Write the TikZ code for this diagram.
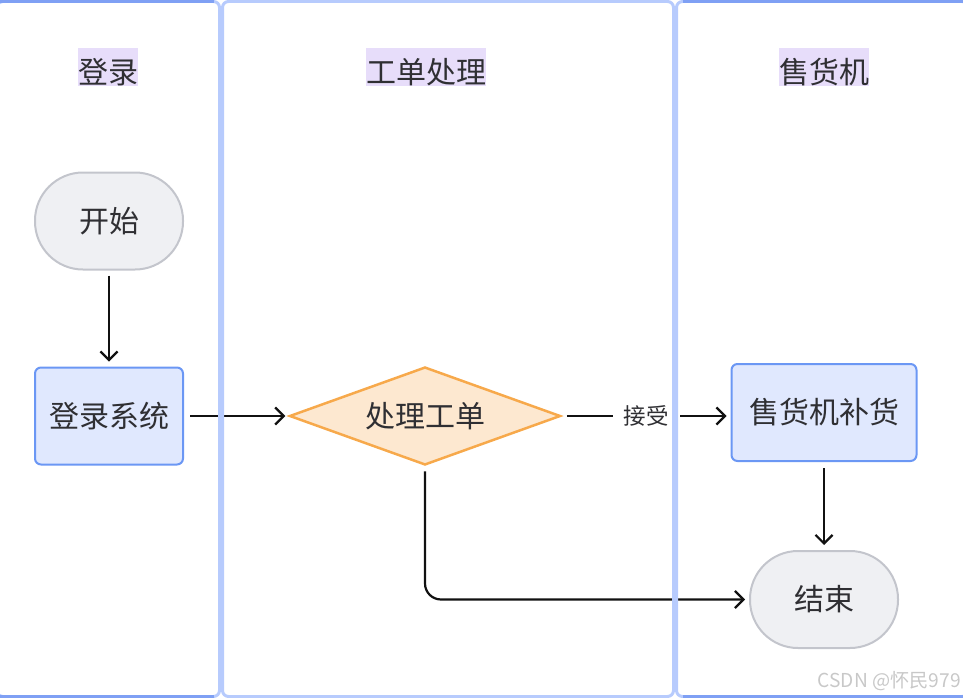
\documentclass[tikz,border=0pt]{standalone}
\usepackage{fontspec}
\setmainfont{Noto Sans CJK SC}
\usetikzlibrary{arrows.meta,shapes.geometric}
\definecolor{lanelight}{HTML}{B7CBFD}
\definecolor{lanedark}{HTML}{7FA0F4}
\definecolor{hdrbg}{HTML}{E7DDFA}
\definecolor{termfill}{HTML}{EFF0F3}
\definecolor{termline}{HTML}{C3C5CC}
\definecolor{procfill}{HTML}{E0E8FE}
\definecolor{procline}{HTML}{6B97F4}
\definecolor{decfill}{HTML}{FDE8D0}
\definecolor{decline}{HTML}{F7A94B}
\definecolor{txt}{HTML}{2F2F33}
\definecolor{wmgray}{HTML}{C8C8C8}
\definecolor{arrowcol}{HTML}{111111}
\begin{document}
\begin{tikzpicture}[x=1pt,y=-1pt,
  header/.style={fill=hdrbg, inner xsep=0pt, inner ysep=0pt, text height=35pt, text depth=3pt,
    text=txt, font=\fontsize{30pt}{36pt}\selectfont, anchor=north},
  terminal/.style={rectangle, rounded corners=48pt, fill=termfill, draw=termline, line width=2pt,
    minimum width=148pt, minimum height=97pt, text=txt, font=\fontsize{30pt}{36pt}\selectfont},
  process/.style={rectangle, rounded corners=6pt, fill=procfill, draw=procline, line width=2pt,
    minimum height=97pt, text=txt, font=\fontsize{30pt}{36pt}\selectfont},
  decision/.style={diamond, shape aspect=2.76, fill=decfill, draw=decline, line width=2.5pt,
    minimum width=271pt, minimum height=98pt, inner sep=0pt, text=txt, font=\fontsize{30pt}{36pt}\selectfont},
  conn/.style={draw=arrowcol, line width=2.2pt, -{Straight Barb[length=8.5pt,width=17pt]}},
  edgelabel/.style={fill=white, inner xsep=11pt, inner ysep=4pt, text=txt, font=\fontsize{22.5pt}{27pt}\selectfont},
  lane/.style={draw=lanelight, line width=3pt, rounded corners=6pt},
  lanetop/.style={draw=lanedark, line width=3pt}
]
\useasboundingbox (0,0) rectangle (963,698);

% headers
\node[header] (h1) at (108,48) {登录};
\node[header] (h2) at (426,48) {工单处理};
\node[header] (h3) at (824,48) {售货机};

% nodes
\node[terminal] (start) at (109,221) {开始};
\node[process, minimum width=148pt] (login) at (109,416) {登录系统};
\node[decision] (d) at (425,416) {处理工单};
\node[process, minimum width=185pt] (refill) at (824,412.5) {售货机补货};
\node[terminal] (end) at (824,599.5) {结束};

% connectors
\draw[conn, shorten <=5pt, shorten >=5pt] (start) -- (login);
\draw[conn, shorten <=6pt, shorten >=3pt] (login.east) -- (d.west);
\draw[conn, shorten <=5pt, shorten >=4pt] (d.east) -- node[edgelabel] (lbl) {接受} (refill.west |- d.east);
\draw[conn, shorten <=6pt, shorten >=5pt] (refill) -- (end);
\draw[conn, rounded corners=16pt, shorten <=5pt, shorten >=4pt] (d.south) |- (end.west);

% lanes
\draw[lane] (-3,1.5) rectangle (219.5,696.5);
\draw[lane] (222.5,1.5) rectangle (673.5,696.5);
\draw[lane] (676.5,1.5) rectangle (968,696.5);
\draw[lanetop] (-3,1.5) -- (213.5,1.5);
\draw[lanetop] (-3,696.5) -- (213.5,696.5);
\draw[lanetop] (682.5,1.5) -- (968,1.5);
\draw[lanetop] (682.5,696.5) -- (968,696.5);

% watermark
\node[anchor=base east, inner sep=0pt, text=wmgray, font=\fontsize{19.2pt}{23pt}\selectfont] (wm) at (961,687) {CSDN @怀民979};
\end{tikzpicture}
\end{document}
